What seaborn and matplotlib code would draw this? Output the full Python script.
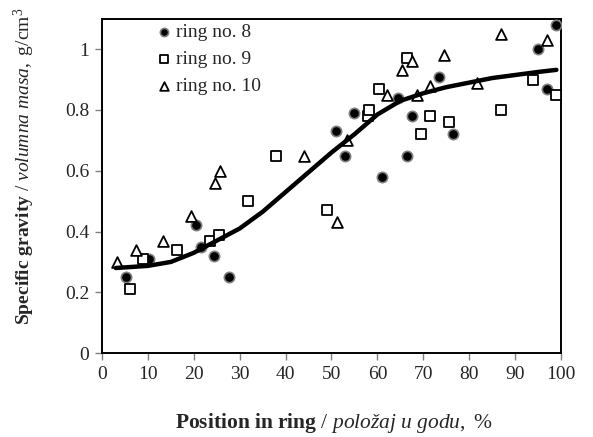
import matplotlib
matplotlib.use('Agg')
import matplotlib.pyplot as plt
import seaborn as sns
import pandas as pd

# ring no. 8 (filled circles)
ring8_x = [5.2, 10.3, 20.5, 21.5, 24.5, 27.7, 51.0, 53.0, 55.0, 61.0, 64.5, 66.5, 67.5, 73.5, 76.5, 95.0, 97.0, 99.0]
ring8_y = [0.25, 0.31, 0.42, 0.35, 0.32, 0.25, 0.73, 0.65, 0.79, 0.58, 0.84, 0.65, 0.78, 0.91, 0.72, 1.00, 0.87, 1.08]

# ring no. 9 (open squares)
ring9_x = [6.2, 9.0, 16.4, 23.5, 25.6, 31.9, 37.9, 49.1, 58.0, 58.2, 60.3, 66.4, 69.5, 71.5, 75.6, 86.9, 94.0, 99.0]
ring9_y = [0.21, 0.31, 0.34, 0.37, 0.39, 0.50, 0.65, 0.47, 0.78, 0.80, 0.87, 0.97, 0.72, 0.78, 0.76, 0.80, 0.90, 0.85]

# ring no. 10 (open triangles)
ring10_x = [3.2, 7.3, 13.4, 19.5, 24.6, 25.7, 44.0, 51.1, 53.3, 62.2, 65.4, 67.5, 68.6, 71.5, 74.5, 81.8, 86.9, 96.9]
ring10_y = [0.30, 0.34, 0.37, 0.45, 0.56, 0.60, 0.65, 0.43, 0.70, 0.85, 0.93, 0.96, 0.85, 0.88, 0.98, 0.89, 1.05, 1.03]

# fitted trend curve
fit_x = [3, 10, 15, 20, 25, 30, 35, 40, 45, 50, 55, 60, 65, 70, 75, 80, 85, 90, 95, 99]
fit_y = [0.28, 0.287, 0.30, 0.33, 0.37, 0.41, 0.465, 0.53, 0.595, 0.66, 0.72, 0.785, 0.83, 0.855, 0.875, 0.89, 0.905, 0.915, 0.925, 0.932]

x_ticks = [0, 10, 20, 30, 40, 50, 60, 70, 80, 90, 100]
y_ticks = [0, 0.2, 0.4, 0.6, 0.8, 1]

sns.set_style('white')
plt.rcParams['font.family'] = ['Liberation Serif', 'DejaVu Serif']
plt.rcParams['mathtext.fontset'] = 'custom'
plt.rcParams['mathtext.rm'] = 'Liberation Serif'
plt.rcParams['mathtext.it'] = 'Liberation Serif:italic'
plt.rcParams['mathtext.bf'] = 'Liberation Serif:bold'

fig = plt.figure(figsize=(5.93, 4.37), dpi=100)
ax = fig.add_axes([0.172, 0.192, 0.774, 0.765])

df8 = pd.DataFrame({'x': ring8_x, 'y': ring8_y})
df9 = pd.DataFrame({'x': ring9_x, 'y': ring9_y})
df10 = pd.DataFrame({'x': ring10_x, 'y': ring10_y})
dfit = pd.DataFrame({'x': fit_x, 'y': fit_y})

sns.scatterplot(data=df8, x='x', y='y', ax=ax, marker='o', s=55, color='black',
                edgecolor='#808080', linewidth=1.2, label='ring no. 8', zorder=3)
sns.scatterplot(data=df9, x='x', y='y', ax=ax, marker='s', s=60, color='white',
                edgecolor='black', linewidth=1.3, label='ring no. 9', zorder=3)
sns.scatterplot(data=df10, x='x', y='y', ax=ax, marker='^', s=60, color='white',
                edgecolor='black', linewidth=1.3, label='ring no. 10', zorder=3)
sns.lineplot(data=dfit, x='x', y='y', ax=ax, color='black', linewidth=3.2, zorder=4)

ax.set_xlim(0, 100)
ax.set_ylim(0, 1.1)
ax.set_xticks(x_ticks)
ax.set_xticklabels([str(t) for t in x_ticks])
ax.set_yticks(y_ticks)
ax.set_yticklabels(['0', '0.2', '0.4', '0.6', '0.8', '1'])
ax.tick_params(axis='both', direction='out', length=5, width=1, color='#808080',
               labelsize=14, pad=4, bottom=True, left=True)
for sp in ax.spines.values():
    sp.set_color('black')
    sp.set_linewidth(1.4)

ax.set_xlabel('')
ax.set_ylabel('')
fig.text(0.563, 0.033, r'$\mathbf{Position\ in\ ring}$ / $\mathit{položaj\ u\ godu,}$ %',
         ha='center', va='center', fontsize=15.5)
fig.text(0.041, 0.62, r'$\mathbf{Specific\ gravity}$ / $\mathit{volumna\ masa,}$ g/cm$^3$',
         ha='center', va='center', rotation=90, fontsize=14)

leg = ax.legend(loc='upper left', bbox_to_anchor=(0.085, 1.02), frameon=False, fontsize=14,
                handletextpad=0.0, labelspacing=0.48, borderaxespad=0.2, handlelength=1.2,
                markerscale=0.8)

fig.savefig('out.png', dpi=100)
